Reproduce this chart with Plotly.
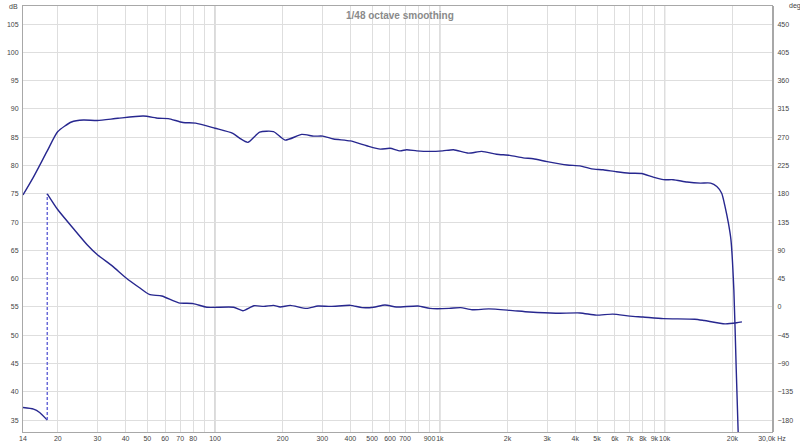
import math
import plotly.graph_objects as go

# ---------------- data ----------------
MAG_FREQ = [14, 15.6, 17.9, 20, 23, 26, 30, 37, 48, 56, 62, 72, 82, 100, 120, 129, 140,
            158, 182, 205, 243, 275, 302, 337, 400, 473, 543, 600, 665, 712, 790, 903,
            1030, 1150, 1340, 1536, 1788, 2048, 2345, 2600, 3000, 3680, 4200, 4730, 5320,
            6100, 7000, 7900, 8890, 9860, 10900, 12570, 14400, 16000, 17050, 17920, 18550,
            19200, 19700, 20300, 20800, 21250]
MAG_DB = [74.8, 78.0, 82.5, 86.0, 87.7, 88.05, 87.95, 88.35, 88.75, 88.35, 88.3, 87.6, 87.5,
          86.6, 85.7, 84.8, 84.1, 85.9, 86.0, 84.5, 85.5, 85.2, 85.2, 84.7, 84.35, 83.5, 82.9,
          83.05, 82.6, 82.8, 82.6, 82.5, 82.6, 82.8, 82.2, 82.5, 82.0, 81.8, 81.35, 81.2, 80.7,
          80.1, 79.95, 79.4, 79.25, 78.9, 78.65, 78.6, 77.95, 77.5, 77.5, 77.1, 76.9, 76.9,
          76.3, 75.1, 72.75, 69.8, 66.9, 58.0, 44.0, 32.0]

PHASE_LOW_FREQ = [14, 15.6, 16.6, 17.95]
PHASE_LOW_DEG = [-160, -162.5, -167.8, -180]

PHASE_FREQ = [17.95, 20, 23.7, 27, 30, 35, 40, 46, 51, 58, 69, 80, 92, 121, 133, 149, 165,
              182, 195, 216, 255, 287, 327, 400, 451, 507, 570, 640, 800, 903, 1100, 1237,
              1390, 1650, 2050, 2500, 3280, 4200, 4960, 5870, 7000, 8000, 9860, 13600, 15000,
              18540, 20900, 22050]
PHASE_DEG = [180, 154.6, 122.8, 99, 83, 65, 47, 31, 20, 17.4, 6.5, 5.4, -0.4, -0.4, -5.9, 2,
             0.9, 2.6, 0, 2.6, -2.3, 1.6, 0.9, 2.6, -1, -0.4, 3.2, 0, 1.6, -2.3, -2.3, -1,
             -4.5, -3.1, -5.4, -8, -10, -9.5, -13, -11.4, -14.6, -16, -18.6, -19.5, -21.6,
             -26.9, -25.2, -23.7]

X_TICK_VALS = [14, 20, 30, 40, 50, 60, 70, 80, 100, 200, 300, 400, 500, 600, 700, 900, 1000,
               2000, 3000, 4000, 5000, 6000, 7000, 8000, 9000, 10000, 20000, 30000]
X_TICK_TEXT = ["14", "20", "30", "40", "50", "60", "70", "80", "100", "200", "300", "400",
               "500", "600", "700", "900", "1k", "2k", "3k", "4k", "5k", "6k", "7k", "8k",
               "9k", "10k", "20k", "30,0k Hz"]
X_MINOR_VALS = [90, 800]
X_MAJOR_GRID = [100, 1000, 10000]

DB_TICKS = list(range(35, 110, 5))
DEG_TICKS = list(range(-180, 451, 45))

TITLE = "1/48 octave smoothing"

# ---------------- styling ----------------
LINE = "#27278f"
DASH = "#6a6ad8"
GRID = "#dedede"
GRID_MAJOR = "#b4b4b4"
AXIS = "#a8a8a8"
FONT = dict(family="Liberation Sans", size=7, color="#444444")

DB_RANGE = [32.9, 108.2]
DEG_RANGE = [(v - 55) * 9 for v in DB_RANGE]

fig = go.Figure()

fig.add_trace(go.Scatter(x=MAG_FREQ, y=MAG_DB, mode="lines",
                         line=dict(color=LINE, width=1.4, shape="spline", smoothing=0.6),
                         showlegend=False, hoverinfo="skip"))
fig.add_trace(go.Scatter(x=PHASE_LOW_FREQ, y=PHASE_LOW_DEG, mode="lines", yaxis="y2",
                         line=dict(color=LINE, width=1.4, shape="spline", smoothing=0.6),
                         showlegend=False, hoverinfo="skip"))
fig.add_trace(go.Scatter(x=[PHASE_LOW_FREQ[-1], PHASE_FREQ[0]],
                         y=[PHASE_LOW_DEG[-1], PHASE_DEG[0]], mode="lines", yaxis="y2",
                         line=dict(color=DASH, width=1.5, dash="3px,2px"),
                         showlegend=False, hoverinfo="skip"))
fig.add_trace(go.Scatter(x=PHASE_FREQ, y=PHASE_DEG, mode="lines", yaxis="y2",
                         line=dict(color=LINE, width=1.4, shape="spline", smoothing=0.6),
                         showlegend=False, hoverinfo="skip"))

shapes = []
for f in X_MAJOR_GRID:
    shapes.append(dict(type="line", xref="x", yref="paper", x0=f, x1=f, y0=0, y1=1,
                       line=dict(color=GRID_MAJOR, width=1), layer="below"))

fig.update_layout(
    width=800, height=444,
    margin=dict(l=23, r=28, t=6, b=12, autoexpand=False),
    paper_bgcolor="white", plot_bgcolor="white",
    font=FONT,
    shapes=shapes,
    xaxis=dict(type="log", range=[math.log10(14), math.log10(30000)],
               tickmode="array", tickvals=X_TICK_VALS, ticktext=X_TICK_TEXT,
               tickangle=0, automargin=False,
               showgrid=True, gridcolor=GRID, gridwidth=1,
               minor=dict(tickmode="array", tickvals=X_MINOR_VALS, showgrid=True,
                          gridcolor=GRID, gridwidth=1, ticks=""),
               showline=True, linecolor=AXIS, linewidth=1, mirror=True,
               ticks="", zeroline=False, tickfont=FONT, ticklabelstandoff=0),
    yaxis=dict(range=DB_RANGE, tickmode="array", tickvals=DB_TICKS, automargin=False,
               showgrid=True, gridcolor=GRID, gridwidth=1,
               showline=True, linecolor=AXIS, linewidth=1, mirror=True,
               ticks="", zeroline=False, tickfont=FONT, ticklabelstandoff=2),
    yaxis2=dict(range=DEG_RANGE, overlaying="y", side="right", tickmode="array",
                tickvals=DEG_TICKS, showgrid=False, zeroline=False, ticks="",
                automargin=False,
                showline=True, linecolor=AXIS, linewidth=2, tickfont=FONT,
                ticklabelstandoff=2),
    annotations=[
        dict(text=TITLE, xref="paper", yref="paper", x=0.503, y=0.995, xanchor="center",
             yanchor="top", showarrow=False,
             font=dict(family="Liberation Sans", size=10, color="#8a8a8a", weight="bold")),
        dict(text="dB", xref="paper", yref="paper", x=-0.004, y=1.0, xanchor="right",
             yanchor="bottom", yshift=-6, showarrow=False, font=FONT),
        dict(text="deg", xref="paper", yref="paper", x=1.02, y=1.0, xanchor="left",
             yanchor="bottom", yshift=-6, showarrow=False, font=FONT),
    ],
)

fig.write_html("out.html", config={"displayModeBar": False},
               post_script="document.body.style.margin='0';")
